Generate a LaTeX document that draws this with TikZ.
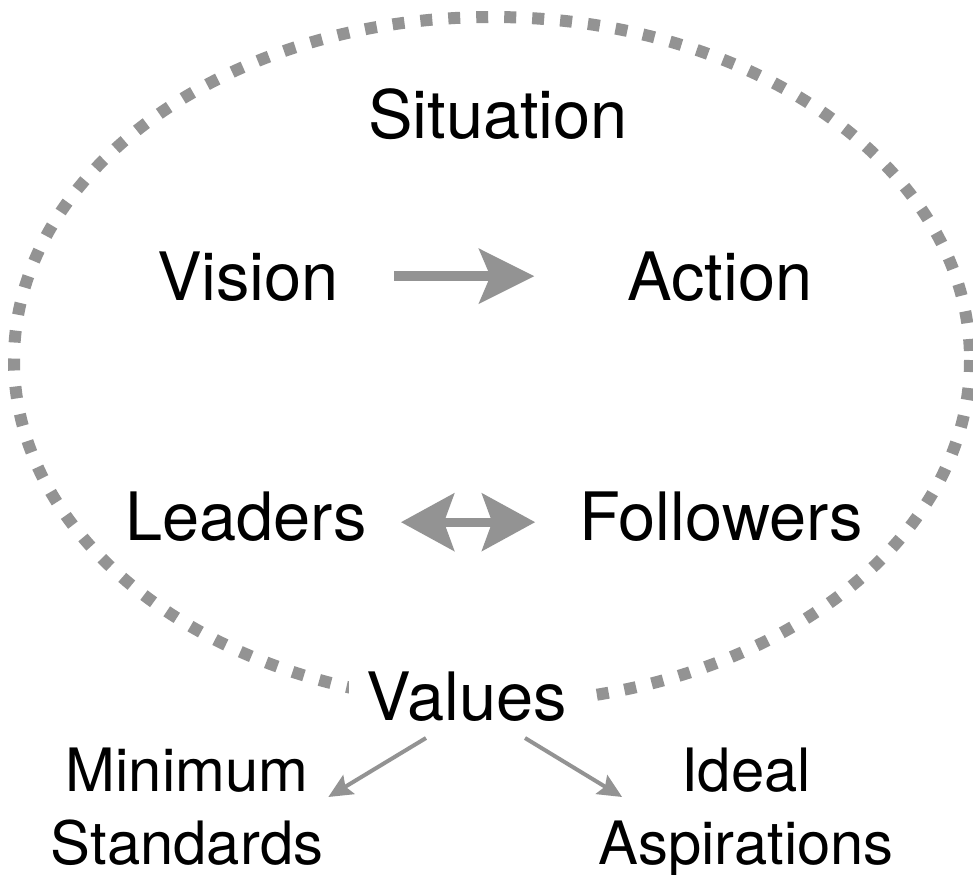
\documentclass[tikz,border=0pt]{standalone}
\usepackage{fontspec}
\setmainfont{TeX Gyre Heros}
\usetikzlibrary{arrows.meta,calc}
\definecolor{dotgray}{HTML}{939393}
\begin{document}
\begin{tikzpicture}[x=1bp,y=-1bp,
  lbl/.style={inner sep=0pt,font=\fontsize{67}{80}\selectfont},
  smalllbl/.style={inner sep=0pt,align=center,font=\fontsize{60}{73}\selectfont},
  dotring/.style={draw=dotgray,line width=12bp,dash pattern=on 12bp off 16bp},
  bigarrow/.style={draw=dotgray,line width=10bp,-{Stealth[length=55bp,width=54bp,inset=11bp]}},
  bigdouble/.style={draw=dotgray,line width=9bp,{Stealth[length=53bp,width=57bp,inset=10bp]}-{Stealth[length=53bp,width=57bp,inset=10bp]}},
  thinarrow/.style={draw=dotgray,line width=4bp,-{Stealth[length=24bp,width=22bp,inset=4bp]}}
]
\useasboundingbox (0,0) rectangle (973,875);
\draw[dotring] (492,360) ellipse [x radius=478, y radius=343];
\node[lbl,anchor=base] (situation) at (498,138) {Situation};
\node[lbl,anchor=base] (vision) at (248,300) {Vision};
\node[lbl,anchor=base] (action) at (720,300) {Action};
\node[lbl,anchor=base] (leaders) at (246,540) {Leaders};
\node[lbl,anchor=base] (followers) at (721,540) {Followers};
\node[lbl,anchor=base,fill=white,inner xsep=18bp] (values) at (467,720) {Values};
\node[smalllbl,anchor=north] (minstd) at (187,748) {Minimum\\Standards};
\node[smalllbl,anchor=north] (idealasp) at (746,748) {Ideal\\Aspirations};
\draw[bigarrow] ([xshift=55bp]vision.east) -- ([xshift=-93bp]action.west);
\draw[bigdouble] ([xshift=34bp,yshift=-6bp]leaders.east) -- ([xshift=-44bp,yshift=-6bp]followers.west);
\draw[thinarrow] ([shift={(-41,18)}]values.base) -- ([shift={(5,49)}]minstd.north east);
\draw[thinarrow] ([shift={(58,18)}]values.base) -- ([shift={(24,49)}]idealasp.north west);
\end{tikzpicture}
\end{document}
